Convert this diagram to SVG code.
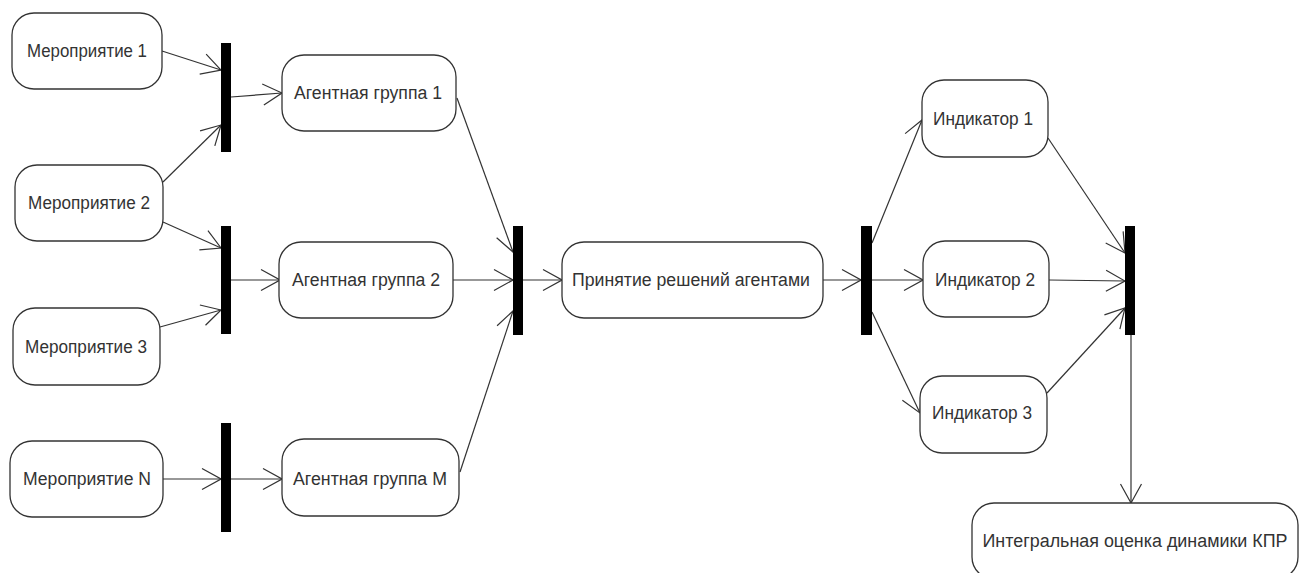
<svg xmlns="http://www.w3.org/2000/svg" width="1307" height="573" viewBox="0 0 1307 573">
<defs>
<marker id="arr" viewBox="0 0 22 24" refX="21" refY="12" markerWidth="22" markerHeight="24" markerUnits="userSpaceOnUse" orient="auto">
<path d="M2,1.5 L21,12 L2,22.5" fill="none" stroke="#333" stroke-width="1.2"/>
</marker>
</defs>
<style>
.node rect{fill:#fff;stroke:#333;stroke-width:1.3}
.node text{font-family:"Liberation Sans",Arial,sans-serif;font-size:18px;fill:#333;text-anchor:middle;dominant-baseline:central}
.bar{fill:#000}
#connectors line{stroke:#333;stroke-width:1.2;marker-end:url(#arr)}
</style>
<rect width="1307" height="573" fill="#fff"/>
<g id="connectors">
<line x1="162" y1="51" x2="221" y2="70"/>
<line x1="163" y1="182" x2="221" y2="125"/>
<line x1="231" y1="97" x2="282" y2="93"/>
<line x1="163" y1="222" x2="221" y2="248"/>
<line x1="160" y1="327" x2="221" y2="310"/>
<line x1="231" y1="280" x2="280" y2="280"/>
<line x1="163" y1="479" x2="221" y2="479"/>
<line x1="231" y1="479" x2="282" y2="479"/>
<line x1="457" y1="98" x2="513" y2="252"/>
<line x1="453" y1="280" x2="513" y2="280"/>
<line x1="460" y1="472" x2="513" y2="311"/>
<line x1="523" y1="280" x2="562" y2="280"/>
<line x1="823" y1="280" x2="861" y2="280"/>
<line x1="872" y1="243" x2="922" y2="120"/>
<line x1="872" y1="280" x2="923" y2="280"/>
<line x1="872" y1="312" x2="920" y2="413"/>
<line x1="1048" y1="138" x2="1125" y2="253"/>
<line x1="1049" y1="280" x2="1125" y2="281"/>
<line x1="1047" y1="393" x2="1125" y2="308"/>
<line x1="1131" y1="335" x2="1131" y2="503"/>
</g>
<g id="bars">
<rect id="bar1" class="bar" x="221" y="43" width="10" height="109"/>
<rect id="bar2" class="bar" x="221" y="226" width="10" height="108"/>
<rect id="bar3" class="bar" x="221" y="423" width="10" height="109"/>
<rect id="bar4" class="bar" x="513" y="226" width="10" height="109"/>
<rect id="bar5" class="bar" x="861" y="226" width="11" height="109"/>
<rect id="bar6" class="bar" x="1125" y="226" width="10" height="109"/>
</g>
<g id="m1" class="node"><rect x="12" y="13" width="150" height="76" rx="22"/><text x="87" y="51" textLength="120" lengthAdjust="spacingAndGlyphs">Мероприятие 1</text></g>
<g id="m2" class="node"><rect x="15" y="165" width="148" height="76" rx="22"/><text x="89" y="203" textLength="122" lengthAdjust="spacingAndGlyphs">Мероприятие 2</text></g>
<g id="m3" class="node"><rect x="13" y="308" width="147" height="77" rx="22"/><text x="86" y="347" textLength="122" lengthAdjust="spacingAndGlyphs">Мероприятие 3</text></g>
<g id="mn" class="node"><rect x="10" y="441" width="153" height="76" rx="22"/><text x="87" y="479" textLength="128" lengthAdjust="spacingAndGlyphs">Мероприятие N</text></g>
<g id="ag1" class="node"><rect x="282" y="55" width="174" height="76" rx="22"/><text x="368" y="93" textLength="148" lengthAdjust="spacingAndGlyphs">Агентная группа 1</text></g>
<g id="ag2" class="node"><rect x="279" y="242" width="174" height="76" rx="22"/><text x="366" y="280" textLength="148" lengthAdjust="spacingAndGlyphs">Агентная группа 2</text></g>
<g id="agm" class="node"><rect x="282" y="439" width="177" height="77" rx="22"/><text x="370" y="479" textLength="154" lengthAdjust="spacingAndGlyphs">Агентная группа M</text></g>
<g id="decision" class="node"><rect x="562" y="242" width="261" height="76" rx="22"/><text x="691" y="280" textLength="238" lengthAdjust="spacingAndGlyphs">Принятие решений агентами</text></g>
<g id="ind1" class="node"><rect x="922" y="80" width="126" height="77" rx="22"/><text x="983" y="119" textLength="100" lengthAdjust="spacingAndGlyphs">Индикатор 1</text></g>
<g id="ind2" class="node"><rect x="923" y="241" width="126" height="76" rx="22"/><text x="985" y="280" textLength="100" lengthAdjust="spacingAndGlyphs">Индикатор 2</text></g>
<g id="ind3" class="node"><rect x="920" y="376" width="127" height="77" rx="22"/><text x="982" y="413" textLength="100" lengthAdjust="spacingAndGlyphs">Индикатор 3</text></g>
<g id="integral" class="node"><rect x="972" y="503" width="326" height="76" rx="22"/><text x="1135" y="541" textLength="305" lengthAdjust="spacingAndGlyphs">Интегральная оценка динамики КПР</text></g>
</svg>
